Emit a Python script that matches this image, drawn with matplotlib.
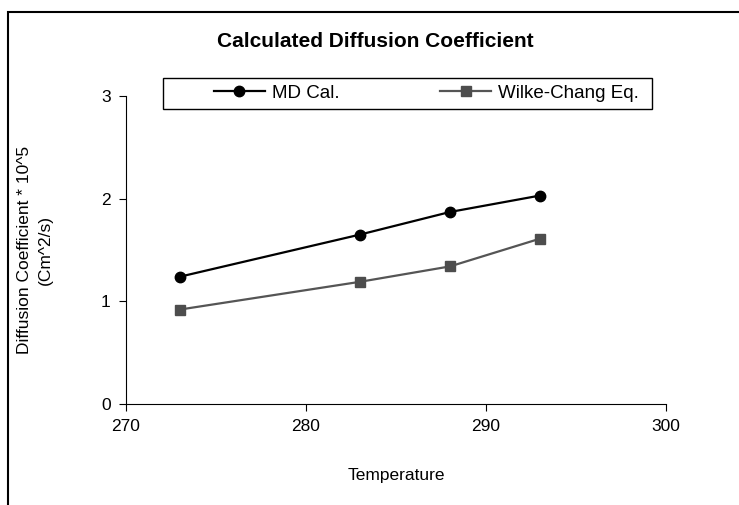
import matplotlib.pyplot as plt
from matplotlib.patches import Rectangle

plt.rcParams['font.family'] = ['Liberation Sans', 'DejaVu Sans']

# data
temperature = [273, 283, 288, 293]
md_cal = [1.24, 1.65, 1.87, 2.03]
wilke_chang = [0.92, 1.19, 1.34, 1.61]

W, H = 739, 505
fig = plt.figure(figsize=(W / 100, H / 100), dpi=100)
ax = fig.add_axes([0.1705, 0.2, 0.7307, 0.61])

ax.plot(temperature, md_cal, color='black', lw=1.6, marker='o', ms=7.5,
        label='MD Cal.')
ax.plot(temperature, wilke_chang, color='#555555', lw=1.6, marker='s', ms=7,
        mfc='#4d4d4d', mec='#4d4d4d', label='Wilke-Chang Eq.')

ax.set_xlim(270, 300)
ax.set_ylim(0, 3)
ax.set_xticks([270, 280, 290, 300])
ax.set_yticks([0, 1, 2, 3])
ax.spines['top'].set_visible(False)
ax.spines['right'].set_visible(False)
ax.tick_params(direction='out', length=5, labelsize=12.5, pad=6)

ax.set_xlabel('Temperature', fontsize=12.5, labelpad=24)
ax.set_ylabel('Diffusion Coefficient * 10^5\n(Cm^2/s)', fontsize=12.5,
              linespacing=1.5)
ax.yaxis.set_label_coords(-0.135, 0.5)

fig.text(217 / W, 1 - 47 / H, 'Calculated Diffusion Coefficient', fontsize=15,
         fontweight='bold', ha='left', va='baseline')

# legend entries without frame, box drawn separately (Excel-like padding)
leg = fig.legend(loc='center left', bbox_to_anchor=(214 / W, 1 - 93 / H),
                 ncol=2, fontsize=13.5, frameon=False, borderpad=0,
                 borderaxespad=0, columnspacing=5.4, handlelength=2.7,
                 handletextpad=0.37)
fig.add_artist(Rectangle((163 / W, 1 - 109 / H), (652 - 163) / W, 31 / H,
                         transform=fig.transFigure, fill=False,
                         edgecolor='black', lw=1.0))

# outer chart border
fig.add_artist(Rectangle((8 / W, -0.05), 1.0, 1 - 12 / H + 0.05,
                         transform=fig.transFigure, fill=False,
                         edgecolor='black', lw=1.5))

fig.savefig('out.png', dpi=100)
